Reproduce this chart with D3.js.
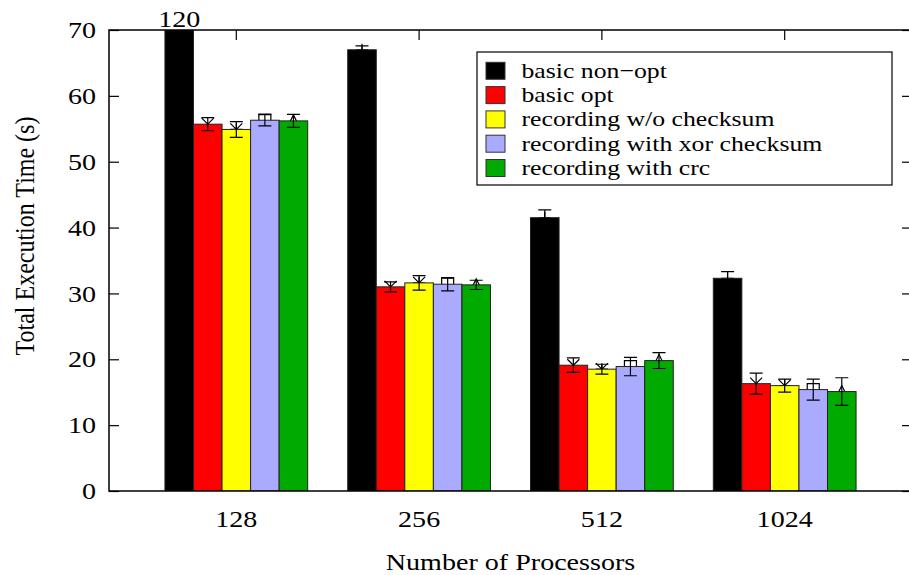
<!DOCTYPE html>
<html>
<head>
<meta charset="utf-8">
<script src="https://cdn.jsdelivr.net/npm/d3@7"></script>
<style>
  html, body { margin: 0; padding: 0; background: #fff; }
  svg { display: block; font-family: "Liberation Serif", "Times New Roman", serif; }
</style>
</head>
<body>
<svg id="chart" width="909" height="575"></svg>
<script>
// ---- data ----
const categories = ["128", "256", "512", "1024"];
const seriesNames = ["basic non\u2212opt", "basic opt", "recording w/o checksum", "recording with xor checksum", "recording with crc"];
const seriesColors = ["#000000", "#ff0000", "#ffff00", "#aaaaff", "#00aa00"];
const seriesMarkers = ["plus", "cross", "star", "box", "triangle"];
const basicNonOpt      = [120, 67.0, 41.5, 32.3];
const basicNonOptErr   = [1.0, 0.6, 1.2, 1.0];
const basicOpt         = [55.7, 31.0, 19.1, 16.3];
const basicOptErr      = [1.0, 0.75, 1.1, 1.6];
const recNoChecksum    = [54.9, 31.6, 18.5, 16.0];
const recNoChecksumErr = [1.2, 1.1, 0.75, 1.0];
const recXor           = [56.3, 31.4, 18.9, 15.4];
const recXorErr        = [0.85, 1.0, 1.4, 1.6];
const recCrc           = [56.2, 31.3, 19.8, 15.1];
const recCrcErr        = [1.0, 0.7, 1.2, 2.1];
const yTicks = [0, 10, 20, 30, 40, 50, 60, 70];
const xTitle = "Number of Processors";
const yTitle = "Total Execution Time (s)";

const seriesValues = [basicNonOpt, basicOpt, recNoChecksum, recXor, recCrc];
const seriesErrors = [basicNonOptErr, basicOptErr, recNoChecksumErr, recXorErr, recCrcErr];

// ---- layout ----
const L = 109, R = 912, T = 30, B = 491;
const SX = 1.17; // horizontal text stretch of the original rendering
const svg = d3.select("#chart");

const x0 = d3.scaleBand().domain(categories).range([L, R]).paddingInner(0.219).paddingOuter(0.306);
const x1 = d3.scaleBand().domain(d3.range(seriesNames.length)).range([0, x0.bandwidth()]);
const y = d3.scaleLinear().domain([0, 70]).range([B, T]);

svg.append("defs").append("clipPath").attr("id", "plotclip")
  .append("rect").attr("x", L).attr("y", T).attr("width", R - L).attr("height", B - T);

// ticks (inward)
const yAxisL = svg.append("g").attr("transform", `translate(${L},0)`)
  .call(d3.axisLeft(y).tickValues(yTicks).tickSizeInner(-10).tickSizeOuter(0).tickPadding(11));
yAxisL.select(".domain").remove();
yAxisL.selectAll("line").attr("stroke", "#000").attr("stroke-width", 1.2);
yAxisL.selectAll("text").attr("font-size", 24).attr("fill", "#000")
  .attr("font-family", "Liberation Serif").attr("transform", `scale(${SX},1)`);

const yAxisR = svg.append("g").attr("transform", `translate(${R},0)`)
  .call(d3.axisRight(y).tickValues(yTicks).tickSizeInner(-10).tickSizeOuter(0).tickFormat(""));
yAxisR.select(".domain").remove();
yAxisR.selectAll("line").attr("stroke", "#000").attr("stroke-width", 1.2);

const xAxisT = svg.append("g").attr("transform", `translate(0,${T})`)
  .call(d3.axisTop(x0).tickSizeInner(-10).tickSizeOuter(0).tickFormat(""));
xAxisT.select(".domain").remove();
xAxisT.selectAll("line").attr("stroke", "#000").attr("stroke-width", 1.2);

const xAxisB = svg.append("g").attr("transform", `translate(0,${B})`)
  .call(d3.axisBottom(x0).tickSizeInner(-10).tickSizeOuter(0).tickPadding(19));
xAxisB.select(".domain").remove();
xAxisB.selectAll("line").attr("stroke", "#000").attr("stroke-width", 1.2);
xAxisB.selectAll("text").attr("font-size", 24).attr("fill", "#000")
  .attr("font-family", "Liberation Serif").attr("transform", `scale(${SX},1)`)
  .each(function() { const t = d3.select(this); t.attr("x", 0); });
// keep tick labels centered despite stretching
xAxisB.selectAll(".tick text").attr("transform", `scale(${SX},1)`);

// ---- bars ----
const plot = svg.append("g").attr("clip-path", "url(#plotclip)");
const items = [];
categories.forEach((c, ci) => {
  seriesNames.forEach((s, si) => {
    items.push({ c, ci, si, v: seriesValues[si][ci], e: seriesErrors[si][ci] });
  });
});
const cx = d => x0(d.c) + x1(d.si) + x1.bandwidth() / 2;

// markers (drawn first; bars cover their lower halves)
const ms = 6;
function markerPath(type, px, py) {
  const p = d3.path();
  if (type === "plus" || type === "star") {
    p.moveTo(px - ms, py); p.lineTo(px + ms, py);
    p.moveTo(px, py - ms); p.lineTo(px, py + ms);
  }
  if (type === "cross" || type === "star") {
    p.moveTo(px - ms, py - ms); p.lineTo(px + ms, py + ms);
    p.moveTo(px + ms, py - ms); p.lineTo(px - ms, py + ms);
  }
  if (type === "box") {
    p.rect(px - ms, py - ms, 2 * ms, 2 * ms);
  }
  if (type === "triangle") {
    p.moveTo(px, py - ms); p.lineTo(px + ms, py + ms); p.lineTo(px - ms, py + ms); p.closePath();
  }
  return p.toString();
}
plot.append("g").selectAll("path").data(items).join("path")
  .attr("d", d => markerPath(seriesMarkers[d.si], cx(d), y(d.v)))
  .attr("fill", "none").attr("stroke", "#000").attr("stroke-width", 1.2);

plot.append("g").selectAll("rect").data(items).join("rect")
  .attr("x", d => x0(d.c) + x1(d.si))
  .attr("width", x1.bandwidth())
  .attr("y", d => y(Math.min(d.v, 80)))
  .attr("height", d => B - y(Math.min(d.v, 80)))
  .attr("fill", d => seriesColors[d.si])
  .attr("stroke", "#222").attr("stroke-width", 1);

// error bars
const cap = 6.5;
const eb = plot.append("g").attr("stroke", "#000").attr("stroke-width", 1.2);
eb.selectAll("path").data(items).join("path")
  .attr("d", d => {
    const px = cx(d), yt = y(d.v + d.e), yb = y(d.v - d.e);
    return `M${px},${yt}V${yb}M${px - cap},${yt}H${px + cap}M${px - cap},${yb}H${px + cap}`;
  });

// value labels for clipped bars
svg.append("g").selectAll("text").data(items.filter(d => d.v > y.domain()[1])).join("text")
  .attr("transform", d => `translate(${cx(d)},${T - 3}) scale(${SX},1)`)
  .attr("text-anchor", "middle").attr("font-size", 24).attr("fill", "#000")
  .text(d => d.v);

// frame
svg.append("rect").attr("x", L).attr("y", T).attr("width", R - L).attr("height", B - T)
  .attr("fill", "none").attr("stroke", "#000").attr("stroke-width", 1.5);

// axis titles
svg.append("text").attr("transform", `translate(${(L + R) / 2},570) scale(${SX},1)`)
  .attr("text-anchor", "middle").attr("font-size", 24).attr("fill", "#000").text(xTitle);
svg.append("text").attr("transform", `translate(24,236) scale(${SX},1) rotate(-90)`)
  .attr("text-anchor", "middle").attr("dy", "0.35em").attr("font-size", 24).attr("fill", "#000").text(yTitle);

// legend
const lg = svg.append("g");
lg.append("rect").attr("x", 477).attr("y", 52).attr("width", 415).attr("height", 133)
  .attr("fill", "#fff").attr("stroke", "#000").attr("stroke-width", 1.2);
seriesNames.forEach((s, i) => {
  const ry = 70.8 + i * 24.3;
  lg.append("rect").attr("x", 486).attr("y", ry - 8.5).attr("width", 19).attr("height", 17)
    .attr("fill", seriesColors[i]).attr("stroke", "#333").attr("stroke-width", 1);
  lg.append("text").attr("transform", `translate(521.5,${ry + 7}) scale(${SX},1)`)
    .attr("font-size", 22).attr("fill", "#000").text(s);
});
</script>
</body>
</html>
